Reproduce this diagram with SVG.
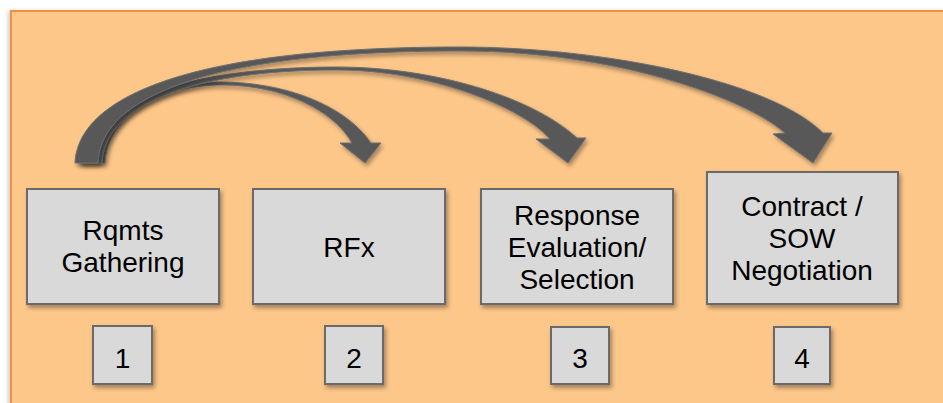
<svg xmlns="http://www.w3.org/2000/svg" width="943" height="403" viewBox="0 0 943 403">
  <defs>
    <filter id="shadow" x="-10%" y="-10%" width="130%" height="140%">
      <feDropShadow dx="2" dy="3" stdDeviation="2" flood-color="#000" flood-opacity="0.35"/>
    </filter>
    <filter id="panelShadow" x="-2%" y="-2%" width="104%" height="104%">
      <feDropShadow dx="-2" dy="1" stdDeviation="2" flood-color="#000" flood-opacity="0.2"/>
    </filter>
    <marker id="head" viewBox="0 0 21 23" refX="0" refY="11.5" markerWidth="21" markerHeight="23" markerUnits="userSpaceOnUse" orient="auto">
      <path d="M0,0 L21,11.5 L0,23 Z" fill="#595959"/>
    </marker>
  </defs>
  <style>
    .panel { fill: #FDC78A; stroke: #F0923C; stroke-width: 2; }
    .box { fill: #D9D9D9; stroke: #6B6B6B; stroke-width: 2; filter: url(#shadow); }
    .label { font-family: "Liberation Sans", Arial, sans-serif; font-size: 28px; fill: #000; text-anchor: middle; }
    .step { fill: none; stroke: #595959; stroke-width: 8; filter: url(#shadow); }
    .curve { fill: #595959; stroke: #6E6E6E; stroke-width: 1; filter: url(#shadow); }
  </style>

  <!-- background panel -->
  <rect class="panel" x="11" y="11" width="940" height="400" filter="url(#panelShadow)"/>

  <!-- connectors -->
  <g id="connectors">
    <!-- straight step arrows -->
    <line class="step" x1="217" y1="246" x2="232" y2="246" marker-end="url(#head)"/>
    <line class="step" x1="445" y1="246" x2="460" y2="246" marker-end="url(#head)"/>
    <line class="step" x1="673" y1="246" x2="689" y2="246" marker-end="url(#head)"/>
    <line class="step" x1="899" y1="246" x2="916" y2="246" marker-end="url(#head)"/>

    <!-- curved skip arrows from step 1 -->
    <path class="curve" d="M81,163 C84,115 150,82 220,82 C285,82 345,105 371,143 L381,143 L365,163 L340,143 L352,143 C335,112 285,85 222,85 C160,85 108,115 105,163 Z"/>
    <path class="curve" d="M78,163 C82,110 170,67 337,67 C430,67 530,95 577,138 L586,138 L568,163 L536,139 L550,139 C522,107 430,70 337,70 C180,70 104,110 102,163 Z"/>
    <path class="curve" d="M75,163 C78,100 180,47 460,47 C600,47 770,80 823,133 L832,133 L813,163 L773,134 L785,133 C748,100 620,51 460,51 C200,51 100,100 98,163 Z"/>
  </g>

  <!-- process steps -->
  <g id="node-rqmts">
    <rect class="box" x="27" y="189" width="192" height="115"/>
    <text class="label" x="123" y="240">Rqmts</text>
    <text class="label" x="123" y="272">Gathering</text>
  </g>
  <g id="node-rfx">
    <rect class="box" x="253" y="189" width="192" height="115"/>
    <text class="label" x="349" y="257">RFx</text>
  </g>
  <g id="node-evaluation">
    <rect class="box" x="481" y="189" width="192" height="115"/>
    <text class="label" x="577" y="225">Response</text>
    <text class="label" x="577" y="257">Evaluation/</text>
    <text class="label" x="577" y="289">Selection</text>
  </g>
  <g id="node-contract">
    <rect class="box" x="707" y="172" width="191" height="132"/>
    <text class="label" x="802" y="216">Contract /</text>
    <text class="label" x="802" y="248">SOW</text>
    <text class="label" x="802" y="280">Negotiation</text>
  </g>

  <!-- step numbers -->
  <g id="num-1">
    <rect class="box" x="93" y="326" width="59" height="58"/>
    <text class="label" x="122.5" y="368">1</text>
  </g>
  <g id="num-2">
    <rect class="box" x="325" y="326" width="58" height="58"/>
    <text class="label" x="354" y="368">2</text>
  </g>
  <g id="num-3">
    <rect class="box" x="551" y="327" width="58" height="57"/>
    <text class="label" x="580" y="368">3</text>
  </g>
  <g id="num-4">
    <rect class="box" x="774" y="327" width="56" height="57"/>
    <text class="label" x="802" y="368">4</text>
  </g>
</svg>
